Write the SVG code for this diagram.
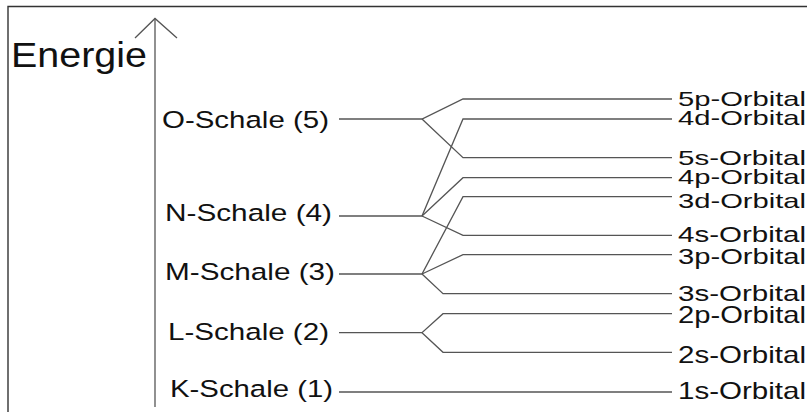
<svg xmlns="http://www.w3.org/2000/svg" width="807" height="412" viewBox="0 0 807 412">
  <style>
    .t { font-family: "Liberation Sans", Arial, sans-serif; fill: #111; }
    .shell { font-size: 24.5px; }
    .orbS { font-size: 21px; }
    .orb { font-size: 22px; }
    .orbL { font-size: 24px; }
    .c { stroke: #555; stroke-width: 1.3; fill: none; }
    .frame { stroke: #333; stroke-width: 1.4; fill: none; }
  </style>
  <rect width="807" height="412" fill="#fff"/>
  <g id="frame">
    <polyline class="frame" points="8,412 8,6.5 807,6.5"/>
  </g>
  <g id="axis">
    <line class="c" x1="155" y1="18.5" x2="155" y2="407"/>
    <polyline class="c" points="135,38 155,18.5 177,38"/>
    <text class="t" x="11" y="66.5" font-size="35" textLength="136" lengthAdjust="spacingAndGlyphs">Energie</text>
  </g>
  <g id="shell-O"><text class="t shell" x="162" y="127.5" textLength="167" lengthAdjust="spacingAndGlyphs">O-Schale (5)</text></g>
  <g id="shell-N"><text class="t shell" x="165" y="221" textLength="167" lengthAdjust="spacingAndGlyphs">N-Schale (4)</text></g>
  <g id="shell-M"><text class="t shell" x="165" y="280" textLength="170" lengthAdjust="spacingAndGlyphs">M-Schale (3)</text></g>
  <g id="shell-L"><text class="t shell" x="168" y="339.5" textLength="161" lengthAdjust="spacingAndGlyphs">L-Schale (2)</text></g>
  <g id="shell-K"><text class="t shell" x="170" y="397" textLength="163" lengthAdjust="spacingAndGlyphs">K-Schale (1)</text></g>

  <g id="orb-5p"><text class="t orbS" x="678" y="106" textLength="128" lengthAdjust="spacingAndGlyphs">5p-Orbital</text></g>
  <g id="orb-4d"><text class="t orbS" x="678" y="125" textLength="128" lengthAdjust="spacingAndGlyphs">4d-Orbital</text></g>
  <g id="orb-5s"><text class="t orbS" x="678" y="165" textLength="128" lengthAdjust="spacingAndGlyphs">5s-Orbital</text></g>
  <g id="orb-4p"><text class="t orbS" x="678" y="183.5" textLength="128" lengthAdjust="spacingAndGlyphs">4p-Orbital</text></g>
  <g id="orb-3d"><text class="t orbS" x="678" y="208" textLength="128" lengthAdjust="spacingAndGlyphs">3d-Orbital</text></g>
  <g id="orb-4s"><text class="t orb" x="678" y="242" textLength="128" lengthAdjust="spacingAndGlyphs">4s-Orbital</text></g>
  <g id="orb-3p"><text class="t orb" x="678" y="264" textLength="128" lengthAdjust="spacingAndGlyphs">3p-Orbital</text></g>
  <g id="orb-3s"><text class="t orb" x="678" y="300.5" textLength="128" lengthAdjust="spacingAndGlyphs">3s-Orbital</text></g>
  <g id="orb-2p"><text class="t orbL" x="678" y="323" textLength="128" lengthAdjust="spacingAndGlyphs">2p-Orbital</text></g>
  <g id="orb-2s"><text class="t orbL" x="678" y="363" textLength="128" lengthAdjust="spacingAndGlyphs">2s-Orbital</text></g>
  <g id="orb-1s"><text class="t orbL" x="678" y="399" textLength="128" lengthAdjust="spacingAndGlyphs">1s-Orbital</text></g>

  <g id="connectors">
    <polyline class="c" points="339,119 422,119 463,99 672,99"/>
    <polyline class="c" points="422,119 463,157.7 672,157.7"/>
    <polyline class="c" points="339,216 422,216 463,119 672,119"/>
    <polyline class="c" points="422,216 463,177.7 672,177.7"/>
    <polyline class="c" points="422,216 463,235.3 672,235.3"/>
    <polyline class="c" points="339,274 422,274 463,196.7 672,196.7"/>
    <polyline class="c" points="422,274 463,254.7 672,254.7"/>
    <polyline class="c" points="422,274 443,293.7 672,293.7"/>
    <polyline class="c" points="339,332.7 422,332.7 443,313.7 672,313.7"/>
    <polyline class="c" points="422,332.7 443,352.3 672,352.3"/>
    <line class="c" x1="339" y1="392" x2="672" y2="392"/>
  </g>
</svg>
